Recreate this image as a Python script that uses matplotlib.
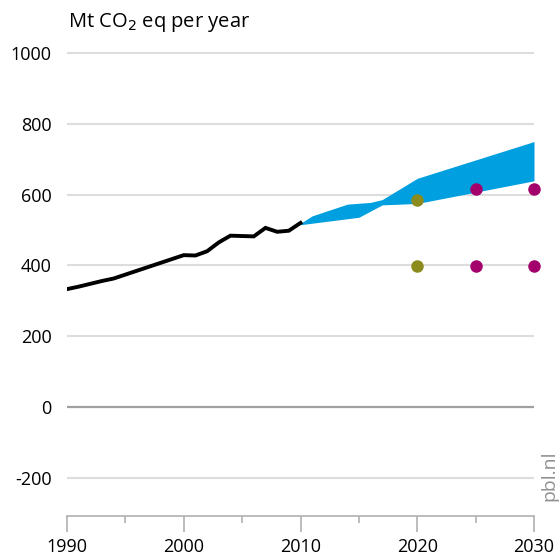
import matplotlib.pyplot as plt
import numpy as np

plt.rcParams['font.family'] = ['Open Sans', 'DejaVu Sans']

# historical emissions (Mt CO2 eq)
hist_years = np.arange(1990, 2011)
hist_vals = [333, 340, 348, 356, 363, 374, 385, 396, 407, 418, 429,
             428, 440, 465, 484, 483, 482, 506, 495, 498, 520]

# projection band
band_upper_years = [2010, 2011, 2014, 2016, 2017, 2020, 2030]
band_upper_vals = [519, 540, 573, 578, 586, 646, 750]
band_lower_years = [2010, 2015, 2017, 2020, 2030]
band_lower_vals = [515, 536, 571, 575, 639]

# target points
olive_years = [2020, 2020]
olive_vals = [585, 399]
magenta_years = [2025, 2030, 2025, 2030]
magenta_vals = [616, 616, 399, 399]

yticks = [-200, 0, 200, 400, 600, 800, 1000]
xticks = [1990, 2000, 2010, 2020, 2030]

fig = plt.figure(figsize=(5.6, 5.59), dpi=100)
ax = fig.add_axes([67 / 560, 43 / 559, 467 / 560, (516 - 49.5) / 559])

for y in yticks:
    if y == 0:
        ax.axhline(y, color='#a0a0a0', lw=1.6, zorder=1)
    else:
        ax.axhline(y, color='#dddddd', lw=1.5, zorder=1)

grid = np.linspace(2010, 2030, 401)
up = np.interp(grid, band_upper_years, band_upper_vals)
lo = np.interp(grid, band_lower_years, band_lower_vals)
ax.fill_between(grid, lo, up, color='#009fdf', lw=0, zorder=2)

ax.plot(hist_years, hist_vals, color='black', lw=2.8, zorder=3,
        solid_joinstyle='miter')

ax.plot(olive_years, olive_vals, 'o', color='#8c8c1e', ms=9, mew=0,
        zorder=4, clip_on=False)
ax.plot(magenta_years, magenta_vals, 'o', color='#a3006b', ms=9, mew=0,
        zorder=4, clip_on=False)

ax.set_xlim(1990, 2030)
ax.set_ylim(-308, 1010)
ax.set_yticks(yticks)
ax.set_yticklabels([str(v) for v in yticks], fontsize=13)
ax.set_xticks(xticks)
ax.set_xticks([1995, 2005, 2015, 2025], minor=True)
ax.set_xticklabels([str(v) for v in xticks], fontsize=13)

for s in ['top', 'right', 'left']:
    ax.spines[s].set_visible(False)
ax.spines['bottom'].set_color('#b0b0b0')
ax.spines['bottom'].set_linewidth(1.2)
ax.tick_params(axis='y', length=0, pad=11)
ax.tick_params(axis='x', which='major', direction='out', length=11.3,
               width=1.2, color='#b0b0b0', pad=4.5)
ax.tick_params(axis='x', which='minor', direction='out', length=5,
               width=1.2, color='#b0b0b0')

fig.text(68 / 560, 1 - 22 / 559, 'Mt CO$_2$ eq per year', fontsize=14.5,
         va='center', ha='left')
fig.text(549 / 560, 1 - 476 / 559, 'pbl.nl', rotation=90, fontsize=14,
         color='#909090', ha='center', va='center')

fig.savefig('out.png', dpi=100)
